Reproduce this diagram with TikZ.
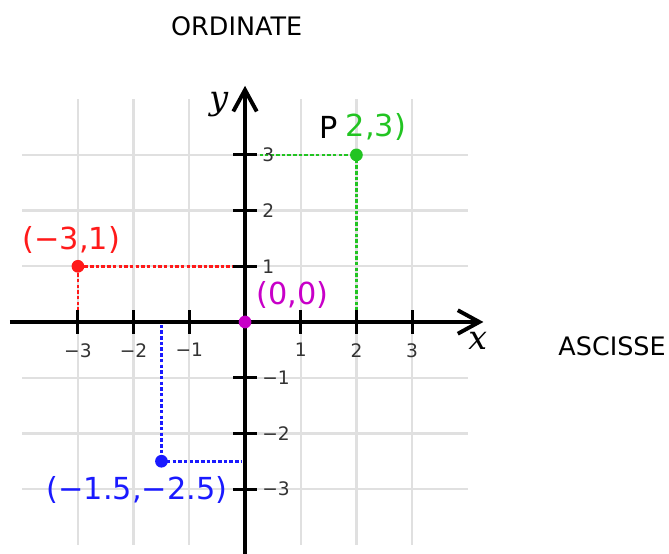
\documentclass[tikz,border=0pt]{standalone}
\usepackage{fontspec}
\setmainfont{DejaVu Sans}
\newfontfamily\axisfont{DejaVu Serif}
\usetikzlibrary{arrows.meta}
\definecolor{ptred}{HTML}{FF1A1A}
\definecolor{ptgreen}{HTML}{22C422}
\definecolor{ptblue}{HTML}{1A1AFF}
\definecolor{ptmag}{HTML}{C800C8}
\definecolor{gridgrey}{HTML}{E0E0E0}
\definecolor{ticktext}{HTML}{333333}
\tikzset{
  gridline/.style={gridgrey, line width=1.2pt},
  axisline/.style={black, line width=2pt, -{Straight Barb[length=11pt,width=12pt,line width=2pt]}},
  tickmark/.style={black, line width=1.5pt},
  ticklabel/.style={ticktext, font=\fontsize{9.5}{11}\selectfont, inner sep=1pt},
  guide/.style={line width=1.3pt, dash pattern=on 1.8pt off 1.1pt},
  dotpt/.style={circle, fill, inner sep=0pt, minimum size=6.5pt},
  ptlabel/.style={font=\fontsize{15.5}{18}\selectfont, inner sep=0pt},
  caption/.style={font=\fontsize{13}{15}\selectfont, inner sep=0pt},
}
\begin{document}
\begin{tikzpicture}
\useasboundingbox (-4.399,-4.165) rectangle (7.612,5.781);
% grid
\foreach \v in {-3,-2,-1,1,2,3} {
  \draw[gridline] (\v,-4) -- (\v,4);
  \draw[gridline] (-4,\v) -- (4,\v);
}
% guides
\coordinate (red) at (-3,1);
\coordinate (green) at (2,3);
\coordinate (blue) at (-1.5,-2.5);
\coordinate (orig) at (0,0);
\coordinate (redx) at (-3,0.2);
\coordinate (redy) at (-0.2,1);
\coordinate (greenx) at (2,0.2);
\coordinate (greeny) at (0.27,3);
\coordinate (bluex) at (-1.5,-0.05);
\coordinate (bluey) at (-0.05,-2.5);
\draw[guide, ptred] (redx) -- (red) -- (redy);
\draw[guide, ptgreen] (greenx) -- (green) -- (greeny);
\draw[guide, ptblue] (bluex) -- (blue) -- (bluey);
% axes
\coordinate (xs) at (-4.22,0);
\coordinate (xe) at (4.28,0);
\coordinate (ys) at (0,-4.165);
\coordinate (ye) at (0,4.24);
\draw[axisline] (xs) -- (xe);
\draw[axisline] (ys) -- (ye);
% ticks
\foreach \v/\t in {-3/−3,-2/−2,-1/−1,1/1,2/2,3/3} {
  \draw[tickmark] (\v,-0.21) -- (\v,0.21);
  \draw[tickmark] (-0.21,\v) -- (0.21,\v);
  \node[ticklabel, anchor=north] (xl\v) at (\v,-0.34) {\t};
  \node[ticklabel, anchor=west] (yl\v) at (0.27,\v) {\t};
}
\node[font=\axisfont\itshape\fontsize{17}{19}\selectfont, inner sep=0pt] (ylab) at (-0.47,3.9) {y};
\node[font=\axisfont\itshape\fontsize{17}{19}\selectfont, inner sep=0pt] (xlab) at (4.18,-0.33) {x};
% points
\node[dotpt, ptred] (rdot) at (red) {};
\node[dotpt, ptgreen] (gdot) at (green) {};
\node[dotpt, ptblue] (bdot) at (blue) {};
\node[dotpt, ptmag] (mdot) at (orig) {};
% labels
\node[ptlabel, ptred] (rlab) at (-3.12,1.47) {(−3,1)};
\node[ptlabel, black] (plab) at (1.51,3.5) {P};
\node[ptlabel, ptgreen] (glab) at (2.35,3.5) {2,3)};
\node[ptlabel, ptmag] (mlab) at (0.85,0.48) {(0,0)};
\node[ptlabel, ptblue] (blab) at (-1.94,-3.02) {(−1.5,−2.5)};
\node[caption] (ord) at (-0.15,5.31) {ORDINATE};
\node[caption] (asc) at (6.59,-0.43) {ASCISSE};
\end{tikzpicture}
\end{document}
